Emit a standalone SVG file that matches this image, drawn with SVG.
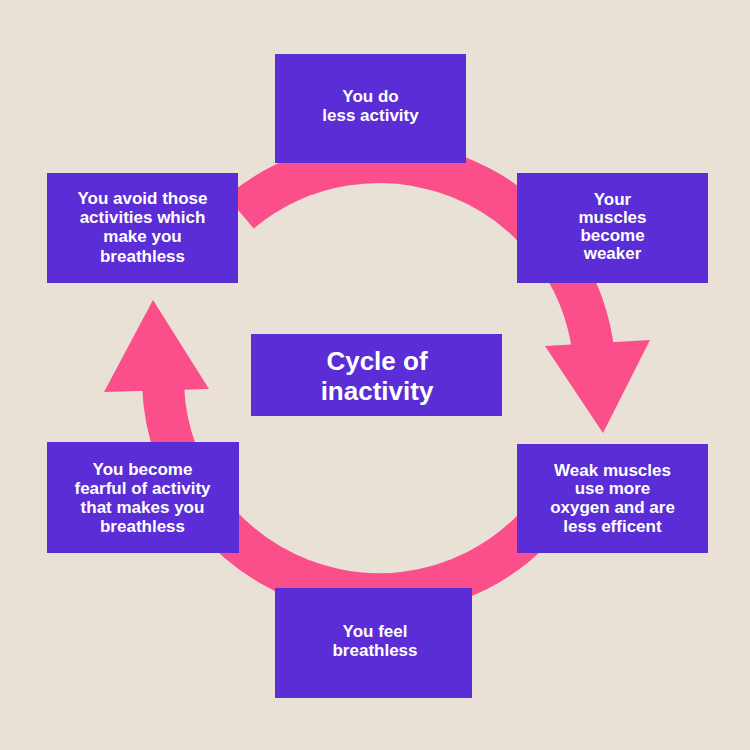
<svg xmlns="http://www.w3.org/2000/svg" width="750" height="750" viewBox="0 0 750 750">
<style>
.bg{fill:#E9E1D5}
.box{fill:#5A2DD6}
.t{font-family:"Liberation Sans",Arial,sans-serif;font-weight:bold;font-size:17px;fill:#FFFFFF;text-anchor:middle}
.title{font-size:26px}
.ring{fill:none;stroke:#FB4F8C;stroke-width:42}
.head{fill:#FB4F8C}
</style>
<rect class="bg" x="0" y="0" width="750" height="750"/>
<g id="connectors">
<path class="ring" d="M 240.2 212.5 A 216 216 0 0 1 593.4 351.7"/>
<polygon class="head" points="545,346 650,340 603,433"/>
<path class="ring" d="M 574.8 469.3 A 216 216 0 0 1 163.1 385.5"/>
<polygon class="head" points="104,392 209,389 153,300"/>
</g>
<g id="node-less-activity">
<rect class="box" x="275" y="54" width="191" height="109"/>
<text class="t" x="370.5" y="102">You do</text>
<text class="t" x="370.5" y="121">less activity</text>
</g>
<g id="node-muscles-weaker">
<rect class="box" x="517" y="173" width="191" height="110"/>
<text class="t" x="612.5" y="205">Your</text>
<text class="t" x="612.5" y="223">muscles</text>
<text class="t" x="612.5" y="241">become</text>
<text class="t" x="612.5" y="259">weaker</text>
</g>
<g id="node-weak-muscles">
<rect class="box" x="517" y="444" width="191" height="109"/>
<text class="t" x="612.5" y="476">Weak muscles</text>
<text class="t" x="612.5" y="494">use more</text>
<text class="t" x="612.5" y="513">oxygen and are</text>
<text class="t" x="612.5" y="532">less efficent</text>
</g>
<g id="node-feel-breathless">
<rect class="box" x="275" y="588" width="197" height="110"/>
<text class="t" x="375" y="637">You feel</text>
<text class="t" x="375" y="656">breathless</text>
</g>
<g id="node-fearful">
<rect class="box" x="47" y="442" width="192" height="111"/>
<text class="t" x="142.5" y="475">You become</text>
<text class="t" x="142.5" y="494">fearful of activity</text>
<text class="t" x="142.5" y="513">that makes you</text>
<text class="t" x="142.5" y="532">breathless</text>
</g>
<g id="node-avoid">
<rect class="box" x="47" y="173" width="191" height="110"/>
<text class="t" x="142.5" y="204">You avoid those</text>
<text class="t" x="142.5" y="223">activities which</text>
<text class="t" x="142.5" y="242">make you</text>
<text class="t" x="142.5" y="262">breathless</text>
</g>
<g id="node-center">
<rect class="box" x="251" y="334" width="251" height="82"/>
<text class="t title" x="377" y="370">Cycle of</text>
<text class="t title" x="377" y="400">inactivity</text>
</g>
</svg>
